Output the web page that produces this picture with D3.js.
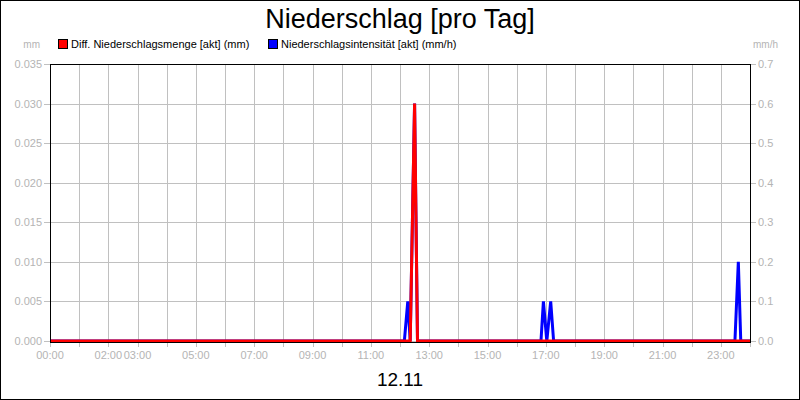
<!DOCTYPE html>
<meta charset="utf-8">
<style>
    body { margin: 0; background: #fff; }
    svg { display: block; font-family: "Liberation Sans", Arial, sans-serif; }
</style>
<body>
<div id="chart"></div>
<script src="https://d3js.org/d3.v7.min.js"></script>
<script>
    // time in minutes since 00:00
    var mengeTimes  = [0, 741, 750, 756, 1440]
    var mengeValues = [0, 0, 0.03, 0, 0]
    var intensTimes  = [0, 729, 736, 741, 750, 756, 1010, 1015, 1022, 1030, 1036, 1409, 1416, 1421, 1440]
    var intensValues = [0, 0, 0.1, 0, 0.6, 0, 0, 0.1, 0, 0.1, 0, 0, 0.2, 0, 0]
    var hourTicks = d3.range(0, 25)
    var xLabels = ['00:00', '02:00', '03:00', '05:00', '07:00', '09:00', '11:00', '13:00', '15:00', '17:00', '19:00', '21:00', '23:00']
    var leftTicks = [0, 0.005, 0.01, 0.015, 0.02, 0.025, 0.03, 0.035]
    var rightTicks = [0, 0.1, 0.2, 0.3, 0.4, 0.5, 0.6, 0.7]

    var W = 800, H = 400
    var margin = { top: 64, right: 50, bottom: 58, left: 50 }
    var width = W - margin.left - margin.right
    var height = H - margin.top - margin.bottom

    var svg = d3.select('#chart').append('svg')
        .attr('width', W)
        .attr('height', H)

    svg.append('rect')
        .attr('x', 0.5).attr('y', 0.5)
        .attr('width', W - 1).attr('height', H - 1)
        .style('fill', '#fff').style('stroke', '#000')

    svg.append('clipPath').attr('id', 'plot')
        .append('rect')
        .attr('x', 0).attr('y', 0)
        .attr('width', 700).attr('height', 278)

    var x = d3.scaleLinear().domain([0, 1440]).range([0, width])
    var yL = d3.scaleLinear().domain([0, 0.035]).range([height - 1, 0])
    var yR = d3.scaleLinear().domain([0, 0.7]).range([height - 1, 0])

    var g = svg.append('g')
        .attr('transform', 'translate(' + margin.left + ',' + margin.top + ')')

    // grid
    g.append('g').selectAll('line')
        .data(hourTicks)
        .enter().append('line')
        .attr('x1', function (d) { return Math.round(x(d * 60)) + 0.5 })
        .attr('x2', function (d) { return Math.round(x(d * 60)) + 0.5 })
        .attr('y1', 0).attr('y2', height + 5)
        .style('stroke', '#c0c0c0')
    g.append('g').selectAll('line')
        .data(leftTicks)
        .enter().append('line')
        .attr('x1', -6).attr('x2', width + 6)
        .attr('y1', function (d) { return Math.round(yL(d)) + 0.5 })
        .attr('y2', function (d) { return Math.round(yL(d)) + 0.5 })
        .style('stroke', '#c0c0c0')

    var grey = '#b4b4b4'
    g.append('g').selectAll('text')
        .data(leftTicks)
        .enter().append('text')
        .attr('x', -8)
        .attr('y', function (d) { return yL(d) + 4 })
        .attr('text-anchor', 'end')
        .style('font-size', '11px').style('fill', grey)
        .text(d3.format('.3f'))
    g.append('g').selectAll('text')
        .data(rightTicks)
        .enter().append('text')
        .attr('x', width + 8)
        .attr('y', function (d) { return yR(d) + 4 })
        .style('font-size', '11px').style('fill', grey)
        .text(d3.format('.1f'))
    g.append('g').selectAll('text')
        .data(xLabels)
        .enter().append('text')
        .attr('x', function (d) { return x(+d.slice(0, 2) * 60) })
        .attr('y', height + 17)
        .attr('text-anchor', 'middle')
        .style('font-size', '11px').style('fill', grey)
        .text(function (d) { return d })

    g.append('text').attr('x', -10).attr('y', -16).attr('text-anchor', 'end')
        .style('font-size', '10px').style('fill', grey).text('mm')
    g.append('text').attr('x', width + 28).attr('y', -16).attr('text-anchor', 'end')
        .style('font-size', '10px').style('fill', grey).text('mm/h')

    // lines
    var lineR = d3.line()
        .x(function (d, i) { return x(intensTimes[i]) })
        .y(function (d) { return yR(d) })
    var lineL = d3.line()
        .x(function (d, i) { return x(mengeTimes[i]) })
        .y(function (d) { return yL(d) })
    var lines = g.append('g').attr('clip-path', 'url(#plot)')
    lines.append('path')
        .attr('d', lineR(intensValues))
        .style('fill', 'none').style('stroke', '#0000ff').style('stroke-width', 3)
    lines.append('path')
        .attr('d', lineL(mengeValues))
        .style('fill', 'none').style('stroke', '#ff0000').style('stroke-width', 3)

    // frame
    g.append('rect')
        .attr('x', 0.5).attr('y', 0.5)
        .attr('width', width).attr('height', height)
        .style('fill', 'none').style('stroke', '#000')

    // title + legend
    svg.append('text')
        .attr('x', W / 2).attr('y', 28)
        .attr('text-anchor', 'middle')
        .style('font-size', '27px')
        .text('Niederschlag [pro Tag]')

    var legend = [
        { label: 'Diff. Niederschlagsmenge [akt] (mm)', color: '#ff0000', x: 58 },
        { label: 'Niederschlagsintensität [akt] (mm/h)', color: '#0000ff', x: 268 }
    ]
    var lg = svg.append('g').selectAll('g')
        .data(legend)
        .enter().append('g')
        .attr('transform', function (d) { return 'translate(' + d.x + ',39)' })
    lg.append('rect')
        .attr('x', 0.5).attr('y', 0.5)
        .attr('width', 9).attr('height', 9)
        .style('fill', function (d) { return d.color })
        .style('stroke', '#000')
    lg.append('text')
        .attr('x', 13).attr('y', 9)
        .style('font-size', '11px')
        .text(function (d) { return d.label })

    svg.append('text')
        .attr('x', W / 2).attr('y', 386)
        .attr('text-anchor', 'middle')
        .style('font-size', '19px')
        .text('12.11')
</script>
</body>
